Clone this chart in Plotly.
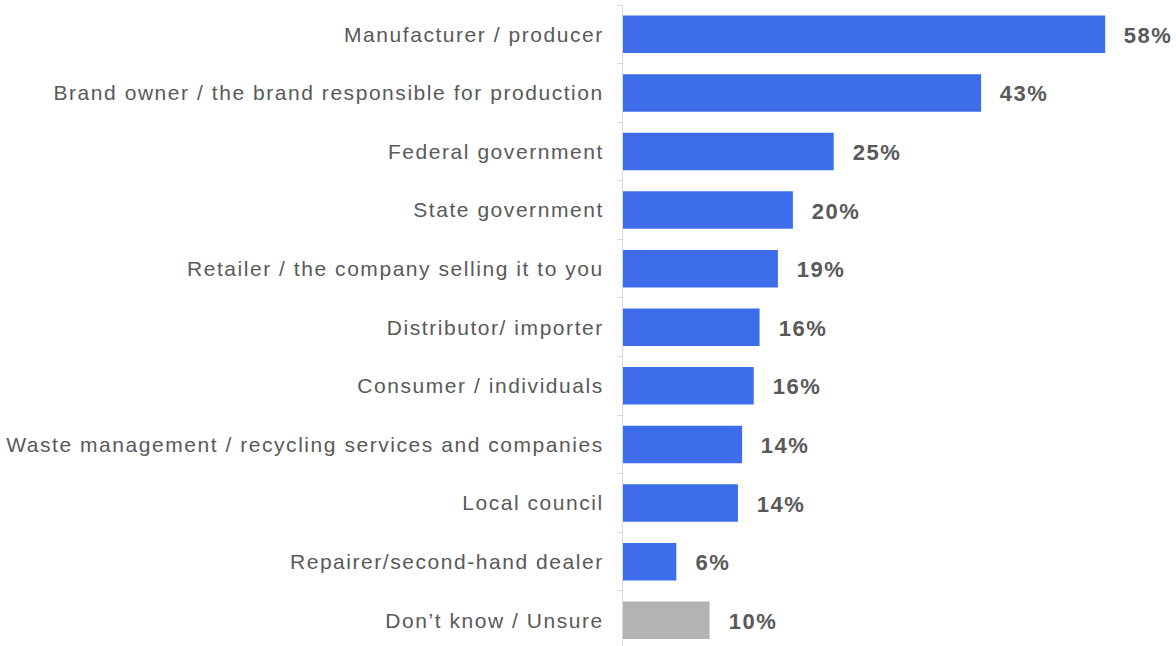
import plotly.graph_objects as go

# Survey responses: who should be responsible (share of respondents, %)
categories = [
    "Manufacturer / producer",
    "Brand owner / the brand responsible for production",
    "Federal government",
    "State government",
    "Retailer / the company selling it to you",
    "Distributor/ importer",
    "Consumer / individuals",
    "Waste management / recycling services and companies",
    "Local council",
    "Repairer/second-hand dealer",
    "Don\u2019t know / Unsure",
]
shares = [57.9, 43.0, 25.3, 20.4, 18.6, 16.4, 15.7, 14.3, 13.8, 6.4, 10.4]
labels = [f"{v:.0f}%" for v in shares]

BLUE = "#3d6deb"
GREY = "#b3b3b3"
TEXT = "#595959"
FONT = "Liberation Sans, Arial, sans-serif"
bar_colors = [BLUE] * (len(categories) - 1) + [GREY]

fig = go.Figure(
    go.Bar(
        x=shares,
        y=categories,
        orientation="h",
        marker=dict(color=bar_colors, line=dict(width=0)),
        hoverinfo="skip",
    )
)

for cat, val, lab in zip(categories, shares, labels):
    fig.add_annotation(
        x=val, y=cat, text=f"<b>{lab}</b>",
        xanchor="left", yanchor="middle", xshift=19, yshift=-1, showarrow=False,
        font=dict(family=FONT, size=22, color=TEXT),
    )

fig.update_layout(
    width=1176, height=646,
    margin=dict(l=623, r=0, t=5, b=0),
    paper_bgcolor="white", plot_bgcolor="white",
    bargap=0.36,
    showlegend=False,
    font=dict(family=FONT, color=TEXT),
)
fig.update_xaxes(visible=False, range=[0, 66.4], fixedrange=True)
fig.update_yaxes(
    categoryorder="array", categoryarray=categories,
    range=[10.44, -0.5],
    showline=True, linecolor="#d9d9d9", linewidth=1,
    ticks="outside", tickson="boundaries", ticklen=5, tickcolor="#d9d9d9",
    ticklabelstandoff=14,
    tickfont=dict(family=FONT, size=21, color=TEXT),
    showgrid=False, zeroline=False, automargin=False,
)

# Open, slightly tracked lettering for category names and value labels
post = """
document.querySelectorAll('.ytick text').forEach(function(t){ t.style.letterSpacing = '1.55px'; });
document.querySelectorAll('.annotation-text').forEach(function(t){ t.style.letterSpacing = '1.5px'; });
"""
fig.write_html("out.html", post_script=post)
